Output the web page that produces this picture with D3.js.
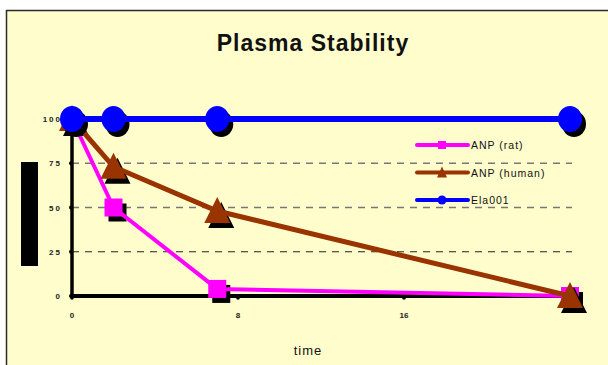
<!DOCTYPE html>
<html><head><meta charset="utf-8">
<script src="https://cdn.jsdelivr.net/npm/d3@7"></script>
<style>body{margin:0;background:#fff}svg{display:block}</style>
</head><body><svg id="c" width="608" height="365"></svg>
<script>
const times = [0, 2, 7, 24];
const anpRat = [100, 50, 4, 0];
const anpHuman = [100, 73, 48, 0];
const ela001 = [100, 100, 100, 100];
const seriesNames = ["ANP (rat)", "ANP (human)", "Ela001"];
const yTicks = [0, 25, 50, 75, 100];
const xTicks = [0, 8, 16];

const svg = d3.select("#c");
svg.append("rect").attr("x",6).attr("y",10).attr("width",602).attr("height",355).attr("fill","#FFFDCC");
svg.append("line").attr("x1",6).attr("x2",608).attr("y1",10.5).attr("y2",10.5).attr("stroke","#2a2a2a").attr("stroke-width",1.5);
svg.append("line").attr("x1",6.5).attr("x2",6.5).attr("y1",10).attr("y2",365).attr("stroke","#2a2a2a").attr("stroke-width",1.5);

const x = d3.scaleLinear().domain([0,24]).range([72,570]);
const y = d3.scaleLinear().domain([0,100]).range([296,119]);

svg.append("text").attr("x",313).attr("y",51).attr("text-anchor","middle")
  .attr("font-family","Liberation Sans, Arial, sans-serif").attr("font-weight","bold")
  .attr("font-size",23).attr("letter-spacing",1).attr("fill","#111").text("Plasma Stability");

// gridlines
[25,50,75].forEach(v=>{
  svg.append("line").attr("x1",x(0)).attr("x2",572).attr("y1",y(v)).attr("y2",y(v))
    .attr("stroke", v===25 ? "#222" : "#777").attr("stroke-width", v===25?1:1.6).attr("stroke-dasharray","7,6");
});

// y-axis title placeholder box
svg.append("rect").attr("x",21).attr("y",162).attr("width",17).attr("height",104).attr("fill","#000");

// axes
svg.append("line").attr("x1",x(0)).attr("x2",x(0)).attr("y1",y(100)).attr("y2",y(0)+1).attr("stroke","#000").attr("stroke-width",3.5);
svg.append("line").attr("x1",x(0)-1).attr("x2",572).attr("y1",y(0)).attr("y2",y(0)).attr("stroke","#000").attr("stroke-width",4);
yTicks.forEach(v=>{
  svg.append("circle").attr("cx",x(0)-1).attr("cy",y(v)).attr("r",2).attr("fill","#000");
  svg.append("text").attr("x",62).attr("y",y(v)+3).attr("text-anchor","end")
    .attr("font-family","Liberation Sans, Arial, sans-serif").attr("font-weight","bold")
    .attr("font-size",8).attr("letter-spacing",2).attr("fill","#222").text(v);
});
xTicks.forEach(v=>{
  svg.append("circle").attr("cx",x(v)).attr("cy",y(0)+2).attr("r",1.8).attr("fill","#000");
  svg.append("text").attr("x",x(v)).attr("y",318).attr("text-anchor","middle")
    .attr("font-family","Liberation Sans, Arial, sans-serif").attr("font-weight","bold")
    .attr("font-size",8).attr("fill","#222").text(v);
});
svg.append("text").attr("x",308).attr("y",355).attr("text-anchor","middle")
  .attr("font-family","Liberation Sans, Arial, sans-serif").attr("font-size",13).attr("letter-spacing",1)
  .attr("fill","#111").text("time");

const line = d3.line().x((d,i)=>x(times[i])).y(d=>y(d));
const series = [
  {name:seriesNames[0], vals:anpRat, color:"#FF00FF", w:4, shape:"square"},
  {name:seriesNames[1], vals:anpHuman, color:"#993300", w:5, shape:"triangle"},
  {name:seriesNames[2], vals:ela001, color:"#0000FF", w:6, shape:"circle"}
];
function marker(g, shape, cx, cy, fill, s){
  if(shape==="square") g.append("rect").attr("x",cx-9*s).attr("y",cy-9*s).attr("width",18*s).attr("height",18*s).attr("fill",fill);
  else if(shape==="triangle") g.append("path").attr("d",`M${cx},${cy-14*s}L${cx+13*s},${cy+12*s}L${cx-13*s},${cy+12*s}Z`).attr("fill",fill);
  else g.append("ellipse").attr("cx",cx).attr("cy",cy).attr("rx",12*s).attr("ry",13*s).attr("fill",fill);
}
series.forEach(s=>{
  const g = svg.append("g");
  s.vals.forEach((v,i)=>marker(g,s.shape,x(times[i])+4,y(v)+5,"#000",1));
  g.append("path").attr("d",line(s.vals)).attr("fill","none").attr("stroke",s.color).attr("stroke-width",s.w);
  s.vals.forEach((v,i)=>marker(g,s.shape,x(times[i]),y(v),s.color,1));
});

// legend
series.forEach((s,i)=>{
  const ly = 145 + i*27.5;
  svg.append("line").attr("x1",417).attr("x2",468).attr("y1",ly).attr("y2",ly).attr("stroke",s.color).attr("stroke-width",4).attr("stroke-linecap","round");
  const g = svg.append("g");
  if(s.shape==="square") g.append("rect").attr("x",438).attr("y",ly-4).attr("width",8).attr("height",8).attr("fill",s.color);
  else if(s.shape==="triangle") g.append("path").attr("d",`M442,${ly-6}L447,${ly+5}L437,${ly+5}Z`).attr("fill",s.color);
  else g.append("circle").attr("cx",442).attr("cy",ly).attr("r",4.5).attr("fill",s.color);
  svg.append("text").attr("x",471).attr("y",ly+4).attr("font-family","Liberation Sans, Arial, sans-serif")
    .attr("font-size",10.5).attr("letter-spacing",1).attr("fill","#111").text(s.name);
});
</script></body></html>
